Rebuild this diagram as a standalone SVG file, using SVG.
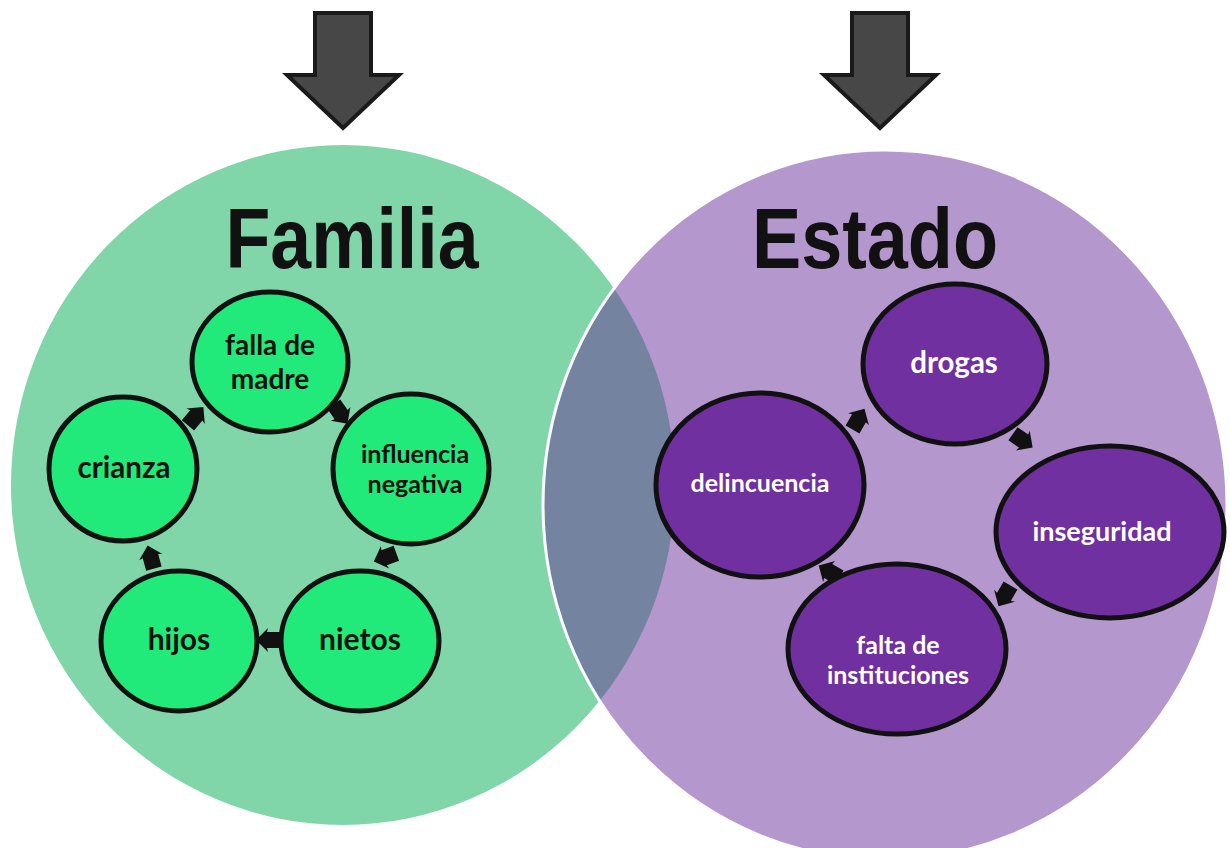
<svg xmlns="http://www.w3.org/2000/svg" width="1230" height="848" viewBox="0 0 1230 848">
<defs>
<style>
.title{font-family:"Liberation Sans",Arial,sans-serif;font-weight:bold;fill:#111;text-anchor:middle}
.gn{fill:#22EA7A;stroke:#111;stroke-width:5}
.pn{fill:#7030A0;stroke:#111;stroke-width:5}
.gt{font-family:Lato,"Open Sans",sans-serif;font-weight:bold;fill:#111;text-anchor:middle}
.pt{font-family:Lato,"Open Sans",sans-serif;font-weight:bold;fill:#fff;text-anchor:middle}
.big{fill:#474747;stroke:#1a1a1a;stroke-width:4;stroke-linejoin:miter}
.sm{fill:#111}
</style>
<clipPath id="gclip"><ellipse cx="343" cy="485" rx="332" ry="340"/></clipPath>
<polygon id="ar" points="-11,-8 2,-8 1,-12 13,0 1,12 2,8 -11,8"/>
</defs>
<g id="backgrounds">
<ellipse cx="343" cy="485" rx="332" ry="340" fill="#80D6A8"/>
<ellipse cx="885" cy="505" rx="342" ry="355" fill="#B497CC"/>
<ellipse cx="885" cy="505" rx="342" ry="355" fill="#7483A0" clip-path="url(#gclip)"/>
<ellipse cx="885" cy="505" rx="342" ry="355" fill="none" stroke="#fff" stroke-width="3"/>
</g>
<g id="arrow-familia">
<polygon class="big" points="315,13 371,13 371,75 399,75 343,128 287,75 315,75"/>
</g>
<g id="arrow-estado">
<polygon class="big" points="852,13 908,13 908,75 936,75 880,128 824,75 852,75"/>
</g>
<g id="title-familia"><text class="title" x="352" y="268" font-size="86" textLength="253" lengthAdjust="spacingAndGlyphs">Familia</text></g>
<g id="title-estado"><text class="title" x="875" y="268" font-size="86" textLength="246" lengthAdjust="spacingAndGlyphs">Estado</text></g>
<g id="connectors">
<use href="#ar" class="sm" transform="translate(195,417) rotate(-50)"/>
<use href="#ar" class="sm" transform="translate(340,413) rotate(55)"/>
<use href="#ar" class="sm" transform="translate(386,557) rotate(160)"/>
<use href="#ar" class="sm" transform="translate(269,640) rotate(180)"/>
<use href="#ar" class="sm" transform="translate(151,558) rotate(-105)"/>
<use href="#ar" class="sm" transform="translate(1022,440) rotate(35)"/>
<use href="#ar" class="sm" transform="translate(1005,595) rotate(120)"/>
<use href="#ar" class="sm" transform="translate(830,572) rotate(-150)"/>
<use href="#ar" class="sm" transform="translate(858,420) rotate(-60)"/>
</g>
<g id="node-falla">
<ellipse class="gn" cx="270" cy="362" rx="78" ry="70"/>
<text class="gt" x="270" y="355" font-size="28">falla de</text>
<text class="gt" x="270" y="389" font-size="28">madre</text>
</g>
<g id="node-influencia">
<ellipse class="gn" cx="411" cy="469" rx="78" ry="75"/>
<text class="gt" x="415" y="463" font-size="25">influencia</text>
<text class="gt" x="415" y="493" font-size="25">negativa</text>
</g>
<g id="node-crianza">
<ellipse class="gn" cx="123" cy="469" rx="74" ry="72"/>
<text class="gt" x="124" y="478" font-size="29.5">crianza</text>
</g>
<g id="node-hijos">
<ellipse class="gn" cx="179" cy="641" rx="78" ry="70"/>
<text class="gt" x="179" y="650" font-size="30">hijos</text>
</g>
<g id="node-nietos">
<ellipse class="gn" cx="360" cy="641" rx="79" ry="70"/>
<text class="gt" x="360" y="650" font-size="30">nietos</text>
</g>
<g id="node-drogas">
<ellipse class="pn" cx="955" cy="364" rx="92" ry="80"/>
<text class="pt" x="954" y="373" font-size="29.5">drogas</text>
</g>
<g id="node-delincuencia">
<ellipse class="pn" cx="760" cy="485" rx="104" ry="92"/>
<text class="pt" x="760" y="492" font-size="25">delincuencia</text>
</g>
<g id="node-inseguridad">
<ellipse class="pn" cx="1110" cy="532" rx="114" ry="86"/>
<text class="pt" x="1102" y="541" font-size="27">inseguridad</text>
</g>
<g id="node-falta">
<ellipse class="pn" cx="897" cy="649" rx="109" ry="85"/>
<text class="pt" x="898" y="654" font-size="25">falta de</text>
<text class="pt" x="898" y="684" font-size="25">instituciones</text>
</g>
</svg>
